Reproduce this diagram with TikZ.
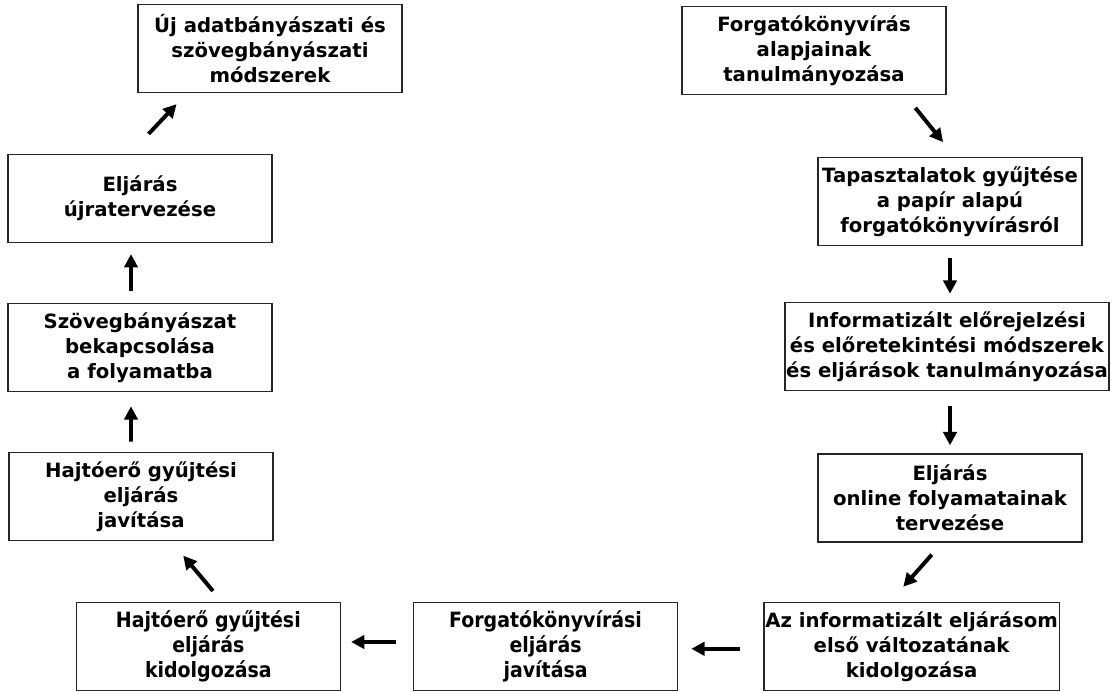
\documentclass[tikz,border=0pt]{standalone}
\usepackage{fontspec}
\setmainfont{DejaVu Sans}
\newfontfamily\condfont{DejaVu Sans Condensed}
\usepackage{tikz}
\usetikzlibrary{positioning, arrows.meta}

\begin{document}
\begin{tikzpicture}[
  stage/.style={draw=black!85, line width=1pt, rectangle, minimum width=6.6cm, minimum height=2.2cm,
    inner xsep=1pt, align=center, font=\fontsize{14}{17.8}\selectfont\bfseries},
  condstage/.style={stage, font=\condfont\fontsize{15}{17.6}\selectfont\bfseries},
  arrow/.style={-{Triangle[length=9.5pt, width=9.5pt]}, line width=2.8pt}
]

% fixed canvas
\useasboundingbox (0, 0) rectangle (27.8, -17.3);

% ===== RIGHT COLUMN (top to bottom) =====
\node[stage] at (20.35, -1.26) (nforg) {Forgatókönyvírás\\alapjainak\\tanulmányozása};
\node[stage] at (23.75, -5.04) (ntap) {Tapasztalatok gyűjtése\\a papír alapú\\forgatókönyvírásról};
\node[stage] at (23.675, -8.66) (ninf) {Informatizált előrejelzési\\és előretekintési módszerek\\és eljárások tanulmányozása};
\node[stage] at (23.75, -12.45) (nonl) {Eljárás\\online folyamatainak\\tervezése};

% ===== BOTTOM ROW (right to left) =====
\node[stage] at (22.79, -16.16) (naz) {Az informatizált eljárásom\\első változatának\\kidolgozása};
\node[condstage] at (13.64, -16.16) (nfjav) {Forgatókönyvírási\\eljárás\\javítása};
\node[condstage] at (5.21, -16.16) (nhkid) {Hajtóerő gyűjtési\\eljárás\\kidolgozása};

% ===== LEFT COLUMN (bottom to top) =====
\node[stage] at (3.525, -12.41) (nhjav) {Hajtóerő gyűjtési\\eljárás\\javítása};
\node[stage] at (3.5, -8.69) (nszov) {Szövegbányászat\\bekapcsolása\\a folyamatba};
\node[stage] at (3.5, -4.96) (nujra) {Eljárás\\újratervezése};
\node[stage] at (6.75, -1.21) (nuj) {Új adatbányászati és\\szövegbányászati\\módszerek};

% ===== Arrows =====
\draw[arrow, shorten <=0.41cm, shorten >=0.475cm] ([xshift=2.275cm]nforg.south) -- ([xshift=0.125cm]ntap.north);
\draw[arrow, shorten <=0.3cm, shorten >=0.2cm] (ntap.south) -- (ntap.south |- ninf.north);
\draw[arrow, shorten <=0.375cm, shorten >=0.2cm] (nonl.north |- ninf.south) -- (nonl.north);
\draw[arrow, shorten <=0.4cm, shorten >=0.5cm] ([xshift=-0.19cm]nonl.south) -- ([xshift=-0.54cm]naz.north);
\draw[arrow, shorten <=0.575cm, shorten >=0.325cm] ([yshift=-0.06cm]naz.west) -- ([yshift=-0.06cm]nfjav.east);
\draw[arrow, shorten <=0.425cm, shorten >=0.25cm] ([yshift=0.11cm]nfjav.west) -- ([yshift=0.11cm]nhkid.east);
\draw[arrow, shorten <=0.35cm, shorten >=0.475cm] ([xshift=0.34cm]nhkid.north) -- ([xshift=0.75cm]nhjav.south);
\draw[arrow, shorten <=0.25cm, shorten >=0.35cm] ([xshift=-0.25cm]nhjav.north) -- ([xshift=-0.225cm]nszov.south);
\draw[arrow, shorten <=0.3cm, shorten >=0.275cm] ([xshift=-0.225cm]nszov.north) -- ([xshift=-0.225cm]nujra.south);
\draw[arrow, shorten <=0.68cm, shorten >=0.38cm] ([xshift=-0.25cm]nujra.north) -- ([xshift=-2.075cm]nuj.south);

\end{tikzpicture}
\end{document}
